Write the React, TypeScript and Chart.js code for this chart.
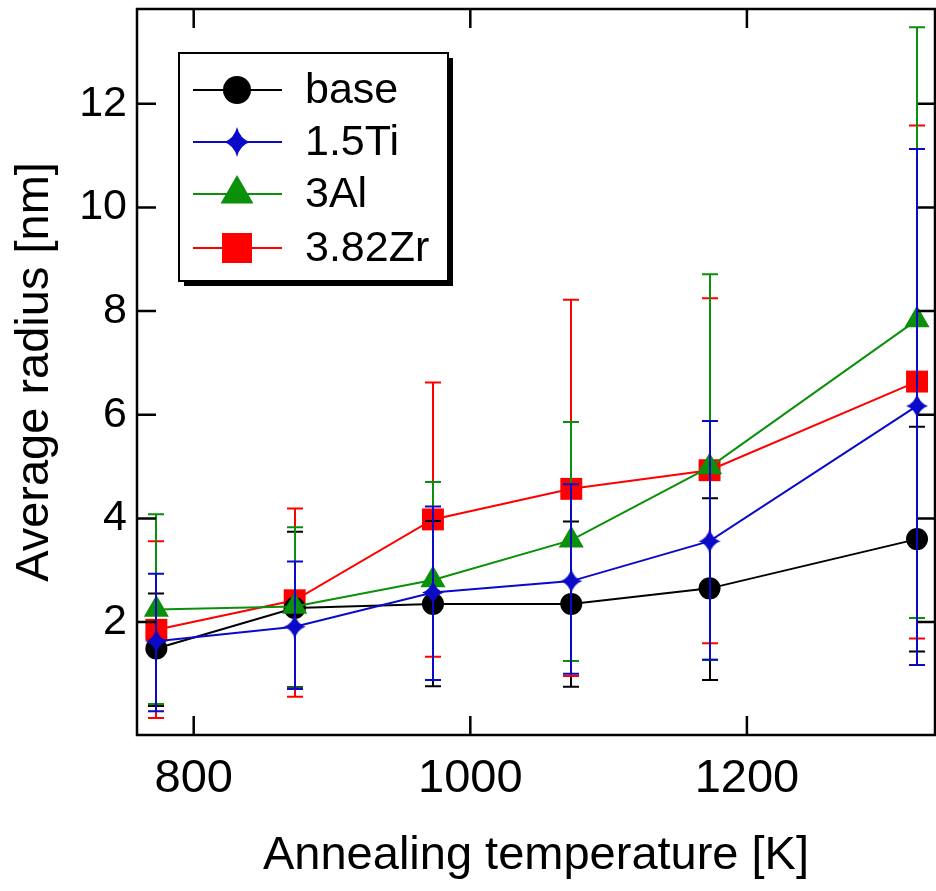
import React, { useEffect, useRef } from 'react';
import { Chart, registerables } from 'chart.js';

Chart.register(...registerables);

// ---- data ----
const temperatures = [773, 873, 973, 1073, 1173, 1323];
const seriesNames = ['base', '1.5Ti', '3Al', '3.82Zr'];

const baseRadius = [1.49, 2.27, 2.35, 2.35, 2.65, 3.6];
const baseUpper = [2.55, 3.74, 3.95, 3.94, 4.39, 5.77];
const baseLower = [0.38, 0.74, 0.76, 0.75, 0.88, 1.43];

const tiRadius = [1.63, 1.91, 2.57, 2.79, 3.56, 6.17];
const tiUpper = [2.93, 3.17, 4.23, 4.66, 5.88, 11.13];
const tiLower = [0.28, 0.71, 0.88, 1.0, 1.27, 1.17];

const alRadius = [2.24, 2.3, 2.81, 3.58, 4.99, 7.83];
const alUpper = [4.08, 3.83, 4.7, 5.86, 8.71, 13.48];
const alLower = [0.42, 0.72, 0.88, 1.25, 1.27, 2.08];

const zrRadius = [1.85, 2.42, 3.98, 4.57, 4.93, 6.64];
const zrUpper = [3.56, 4.19, 6.62, 8.22, 8.25, 11.58];
const zrLower = [0.15, 0.56, 1.33, 0.96, 1.59, 1.68];

const xTicks = [800, 1000, 1200];
const yTicks = [2, 4, 6, 8, 10, 12];

const colors = ['#000000', '#0a0ac8', '#0a900a', '#ff0000'];

const FONT = '"Liberation Sans", Arial, Helvetica, sans-serif';

function makeStar(w: number, h: number, color: string): HTMLCanvasElement {
  const c = document.createElement('canvas');
  c.width = Math.ceil(2 * w + 2);
  c.height = Math.ceil(2 * h + 2);
  const ctx = c.getContext('2d')!;
  const cx = c.width / 2;
  const cy = c.height / 2;
  const k = 0.22;
  ctx.fillStyle = color;
  ctx.beginPath();
  ctx.moveTo(cx, cy - h);
  ctx.quadraticCurveTo(cx + w * k, cy - h * k, cx + w, cy);
  ctx.quadraticCurveTo(cx + w * k, cy + h * k, cx, cy + h);
  ctx.quadraticCurveTo(cx - w * k, cy + h * k, cx - w, cy);
  ctx.quadraticCurveTo(cx - w * k, cy - h * k, cx, cy - h);
  ctx.closePath();
  ctx.fill();
  return c;
}

export default function App() {
  const canvasRef = useRef<HTMLCanvasElement | null>(null);

  useEffect(() => {
    if (!canvasRef.current) return;
    const chartStar = makeStar(11, 12.5, colors[1]);
    const legendStar = makeStar(13, 15, colors[1]);

    const toPts = (ys: number[]) => temperatures.map((t, i) => ({ x: t, y: ys[i] }));

    const uppers = [baseUpper, tiUpper, alUpper, zrUpper];
    const lowers = [baseLower, tiLower, alLower, zrLower];

    const datasets: any[] = [
      {
        label: seriesNames[0], data: toPts(baseRadius), borderColor: colors[0], backgroundColor: colors[0],
        pointStyle: 'circle', pointRadius: 11, pointBorderWidth: 0, pointBackgroundColor: colors[0], order: 2,
      },
      {
        label: seriesNames[1], data: toPts(tiRadius), borderColor: colors[1], backgroundColor: colors[1],
        pointStyle: chartStar, pointRadius: 12, pointBorderWidth: 0, pointBackgroundColor: colors[1], order: 0,
      },
      {
        label: seriesNames[2], data: toPts(alRadius), borderColor: colors[2], backgroundColor: colors[2],
        pointStyle: 'triangle', pointRadius: 14.5, pointBorderWidth: 0, pointBackgroundColor: colors[2], order: 1,
      },
      {
        label: seriesNames[3], data: toPts(zrRadius), borderColor: colors[3], backgroundColor: colors[3],
        pointStyle: 'rect', pointRadius: 15.5, pointBorderWidth: 0, pointBackgroundColor: colors[3], order: 3,
      },
    ].map((d) => ({ ...d, borderWidth: 2, showLine: true, fill: false, tension: 0 }));

    const errorBarPlugin = {
      id: 'errorBars',
      afterDatasetsDraw(chart: any) {
        const { ctx, scales } = chart;
        const xs = scales.x;
        const ys = scales.y;
        const drawOrder = [0, 3, 2, 1];
        ctx.save();
        ctx.lineWidth = 2;
        for (const s of drawOrder) {
          ctx.strokeStyle = colors[s];
          temperatures.forEach((t, i) => {
            const px = Math.round(xs.getPixelForValue(t));
            const yTop = ys.getPixelForValue(uppers[s][i]);
            const yBot = ys.getPixelForValue(lowers[s][i]);
            ctx.beginPath();
            ctx.moveTo(px, yTop);
            ctx.lineTo(px, yBot);
            ctx.moveTo(px - 8, yTop);
            ctx.lineTo(px + 8, yTop);
            ctx.moveTo(px - 8, yBot);
            ctx.lineTo(px + 8, yBot);
            ctx.stroke();
          });
        }
        ctx.restore();
      },
    };

    const framePlugin = {
      id: 'frameAndLegend',
      afterDraw(chart: any) {
        const { ctx, chartArea, scales } = chart;
        const { left, right, top, bottom } = chartArea;
        ctx.save();
        ctx.strokeStyle = '#000';
        ctx.lineWidth = 2.5;
        ctx.strokeRect(left, top, right - left, bottom - top);
        const tl = 19;
        ctx.beginPath();
        xTicks.forEach((v) => {
          const px = scales.x.getPixelForValue(v);
          ctx.moveTo(px, bottom);
          ctx.lineTo(px, bottom - tl);
          ctx.moveTo(px, top);
          ctx.lineTo(px, top + tl);
        });
        yTicks.forEach((v) => {
          const py = scales.y.getPixelForValue(v);
          ctx.moveTo(left, py);
          ctx.lineTo(left + tl, py);
          ctx.moveTo(right, py);
          ctx.lineTo(right - 17, py);
        });
        ctx.stroke();

        // legend
        const lx = left + 42;
        const ly = top + 44;
        const lw = 269;
        const lh = 228;
        ctx.fillStyle = '#000';
        ctx.fillRect(lx + 5, ly + 5, lw, lh);
        ctx.fillStyle = '#fff';
        ctx.fillRect(lx, ly, lw, lh);
        ctx.lineWidth = 2;
        ctx.strokeStyle = '#000';
        ctx.strokeRect(lx, ly, lw, lh);
        const rowY = [ly + 37, ly + 89, ly + 141, ly + 195];
        const lineX0 = lx + 14;
        const lineX1 = lx + 103;
        const mx = lx + 58;
        ctx.font = `43px ${FONT}`;
        ctx.textBaseline = 'middle';
        ctx.textAlign = 'left';
        seriesNames.forEach((name, i) => {
          const y = rowY[i];
          ctx.strokeStyle = colors[i];
          ctx.fillStyle = colors[i];
          ctx.lineWidth = 2;
          ctx.beginPath();
          ctx.moveTo(lineX0, y);
          ctx.lineTo(lineX1, y);
          ctx.stroke();
          if (i === 0) {
            ctx.beginPath();
            ctx.arc(mx, y, 14, 0, Math.PI * 2);
            ctx.fill();
          } else if (i === 1) {
            ctx.drawImage(legendStar, mx - legendStar.width / 2, y - legendStar.height / 2);
          } else if (i === 2) {
            const r = 19;
            ctx.beginPath();
            ctx.moveTo(mx, y - r);
            ctx.lineTo(mx + r * Math.sin((2 * Math.PI) / 3), y - r * Math.cos((2 * Math.PI) / 3));
            ctx.lineTo(mx + r * Math.sin((4 * Math.PI) / 3), y - r * Math.cos((4 * Math.PI) / 3));
            ctx.closePath();
            ctx.fill();
          } else {
            ctx.fillRect(mx - 15, y - 15, 30, 30);
          }
          ctx.fillStyle = '#000';
          ctx.fillText(name, lx + 126, y + 1);
        });
        ctx.restore();
      },
    };

    const chart = new Chart(canvasRef.current, {
      type: 'scatter',
      data: { datasets },
      options: {
        animation: false,
        responsive: false,
        devicePixelRatio: 1,
        layout: { autoPadding: false, padding: { top: 9, right: 1, left: 0, bottom: 0 } },
        plugins: { legend: { display: false }, tooltip: { enabled: false } },
        scales: {
          x: {
            type: 'linear',
            position: 'bottom',
            min: 759,
            max: 1336,
            afterFit: (s: any) => {
              s.height = 156;
              s.paddingLeft = 0;
              s.paddingRight = 0;
              s.paddingTop = 0;
              s.paddingBottom = 0;
            },
            afterBuildTicks: (s: any) => { s.ticks = xTicks.map((v) => ({ value: v })); },
            grid: { display: false, drawTicks: false },
            border: { display: false },
            ticks: {
              padding: 16,
              color: '#000',
              maxRotation: 0,
              autoSkip: false,
              font: { family: FONT, size: 47 },
              callback: (v: any) => String(v),
            },
            title: {
              display: true,
              text: 'Annealing temperature [K]',
              color: '#000',
              font: { family: FONT, size: 47 },
              padding: { top: 0, bottom: 7 },
            },
          },
          y: {
            type: 'linear',
            position: 'left',
            min: -0.18,
            max: 13.83,
            afterFit: (s: any) => {
              s.width = 137;
              s.paddingLeft = 0;
              s.paddingRight = 0;
              s.paddingTop = 0;
              s.paddingBottom = 0;
            },
            afterBuildTicks: (s: any) => { s.ticks = yTicks.map((v) => ({ value: v })); },
            grid: { display: false, drawTicks: false },
            border: { display: false },
            ticks: {
              padding: 10,
              color: '#000',
              autoSkip: false,
              font: { family: FONT, size: 43 },
              callback: (v: any) => String(v),
            },
            title: {
              display: true,
              text: 'Average radius [nm]',
              color: '#000',
              font: { family: FONT, size: 47 },
              padding: { top: 7, bottom: 0 },
            },
          },
        },
      },
      plugins: [errorBarPlugin, framePlugin],
    } as any);

    return () => chart.destroy();
  }, []);

  return (
    <div style={{ position: 'absolute', left: 0, top: 0, width: 936, height: 891, background: '#fff' }}>
      <canvas ref={canvasRef} width={936} height={891} style={{ display: 'block', width: 936, height: 891 }} />
    </div>
  );
}
